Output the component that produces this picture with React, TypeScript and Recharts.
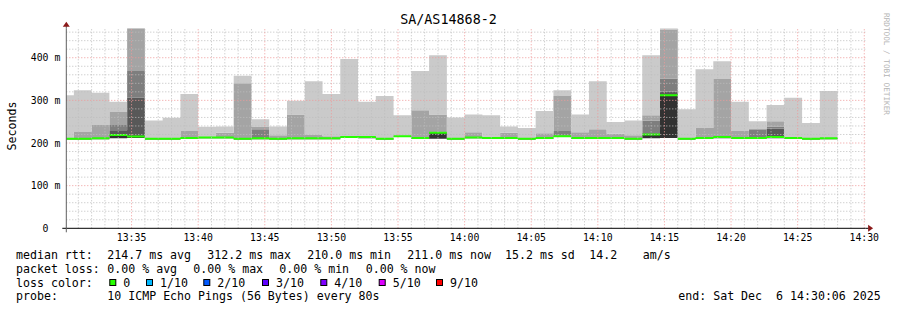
import React from 'react';
import { ComposedChart, Area, XAxis, YAxis, ReferenceLine, ReferenceDot } from 'recharts';

// ---- data ----
const slotStart = [
  '13:29:20', '13:30:40', '13:32:00', '13:33:20', '13:34:40', '13:36:00', '13:37:20', '13:38:40',
  '13:40:00', '13:41:20', '13:42:40', '13:44:00', '13:45:20', '13:46:40', '13:48:00', '13:49:20',
  '13:50:40', '13:52:00', '13:53:20', '13:54:40', '13:56:00', '13:57:20', '13:58:40', '14:00:00',
  '14:01:20', '14:02:40', '14:04:00', '14:05:20', '14:06:40', '14:08:00', '14:09:20', '14:10:40',
  '14:12:00', '14:13:20', '14:14:40', '14:16:00', '14:17:20', '14:18:40', '14:20:00', '14:21:20',
  '14:22:40', '14:24:00', '14:25:20', '14:26:40',
];
const slotEnd = '14:28:00';
const viewStart = '13:30:06';
const viewEnd = '14:30:06';
const timeTicks = ['13:35', '13:40', '13:45', '13:50', '13:55', '14:00', '14:05', '14:10', '14:15', '14:20', '14:25', '14:30'];
const yTicks = [0, 100, 200, 300, 400];
const yMax = 469;

const median = [210, 210, 211, 219, 215, 210, 210, 212, 213, 213, 210, 211, 210, 211, 211, 211, 214, 214, 210, 216, 212, 224, 210, 213, 212, 212, 210, 212, 216, 212, 212, 212, 210, 220, 312, 210, 212, 214, 212, 212, 214, 212, 210, 211];
const pingMin = [208, 208, 209, 211, 212, 208, 208, 210, 211, 211, 208, 209, 208, 209, 209, 209, 212, 211, 208, 214, 210, 210, 208, 211, 210, 210, 208, 210, 214, 210, 210, 210, 208, 211, 212, 208, 210, 211, 210, 210, 211, 210, 208, 209];
const ping6 = [210, 210, 211, 219, 215, 210, 210, 212, 213, 213, 210, 211, 210, 211, 211, 211, 214, 214, 210, 216, 212, 224, 210, 213, 212, 212, 210, 212, 216, 212, 212, 212, 210, 220, 312, 210, 212, 214, 212, 212, 214, 212, 210, 211];
const ping7 = [211, 211, 212, 230, 306, 211, 211, 213, 214, 214, 211, 212, 211, 212, 212, 212, 215, 215, 211, 217, 213, 225, 211, 214, 213, 213, 211, 213, 217, 213, 213, 213, 211, 221, 320, 211, 213, 215, 213, 213, 234, 213, 211, 212];
const ping8 = [211, 211, 212, 242, 369, 211, 211, 213, 214, 214, 211, 232, 211, 212, 212, 212, 215, 215, 211, 217, 213, 225, 211, 214, 213, 213, 211, 213, 228, 213, 213, 213, 211, 253, 351, 211, 213, 215, 213, 232, 239, 213, 211, 212];
const ping9 = [211, 226, 242, 273, 469, 211, 211, 228, 214, 224, 340, 239, 218, 267, 220, 216, 215, 216, 211, 217, 277, 267, 211, 225, 213, 224, 211, 223, 310, 225, 232, 222, 218, 265, 465, 211, 235, 350, 228, 232, 251, 213, 211, 212];
const pingMax = [312, 324, 318, 297, 469, 253, 259, 315, 238, 239, 358, 256, 239, 299, 345, 315, 397, 297, 310, 265, 369, 406, 260, 267, 265, 239, 235, 275, 324, 267, 345, 249, 253, 406, 469, 279, 373, 392, 297, 251, 289, 306, 247, 322];

const lossLevels = ['0', '1/10', '2/10', '3/10', '4/10', '5/10', '9/10'];
const lossColors = ['#26ff00', '#00b8ff', '#0059ff', '#5e00ff', '#7e00ff', '#dd00ff', '#ff0000'];

const rttItems = ['214.7 ms avg', '312.2 ms max', '210.0 ms min', '211.0 ms now', '15.2 ms sd', '14.2', 'am/s'];
const lossItems = ['0.00 % avg', '0.00 % max', '0.00 % min', '0.00 % now'];
const probeText = '10 ICMP Echo Pings (56 Bytes) every 80s';
const endText = 'end: Sat Dec  6 14:30:06 2025';
const title = 'SA/AS14868-2';

// ---- helpers ----
const toSec = (s: string) => {
  const p = s.split(':').map(Number);
  return p[0] * 3600 + p[1] * 60 + (p[2] || 0);
};
const pad = (n: number) => (n < 10 ? '0' + n : '' + n);
const fmtTime = (t: number) => `${pad(Math.floor(t / 3600))}:${pad(Math.floor((t % 3600) / 60))}`;

const BAND = 4.7; // median band thickness (ms)
const smokeColors = ['#323232', '#585858', '#7e7e7e', '#a4a4a4', '#cacaca'];

const rows: any[] = slotStart.map((s, i) => ({
  t: toSec(s),
  base: pingMin[i],
  l5: ping6[i] - pingMin[i],
  l4: ping7[i] - ping6[i],
  l3: ping8[i] - ping7[i],
  l2: ping9[i] - ping8[i],
  l1: pingMax[i] - ping9[i],
  mb: median[i] - BAND / 2,
  mband: BAND,
}));
rows.push({ ...rows[rows.length - 1], t: toSec(slotEnd) });

const x0 = toSec(viewStart);
const x1 = toSec(viewEnd);
const majorX = timeTicks.map(toSec);
const minorX: number[] = [];
for (let t = Math.ceil(x0 / 60) * 60; t <= x1; t += 60) if (!majorX.includes(t)) minorX.push(t);
const majorY = yTicks.filter((v) => v > 0);
const minorY: number[] = [];
for (let v = 20; v < yMax; v += 20) if (v % 100 !== 0) minorY.push(v);

const FONT = '"DejaVu Sans Mono", monospace';
const MINOR = '#bdbdbd';
const MAJOR = '#ee9999';

const YTick = (props: any) => {
  const { x, y, payload } = props;
  const v = payload.value;
  return (
    <text x={v === 0 ? x - 18 : x - 6} y={y} dy="0.36em" textAnchor="end" fontFamily={FONT} fontSize={9.8} fill="#000">
      {v === 0 ? '0' : `${v} m`}
    </text>
  );
};

const smokeKeys = ['l5', 'l4', 'l3', 'l2', 'l1'];
const preStyle: any = { whiteSpace: 'pre' };

export default function App() {
  return (
    <div style={{ position: 'absolute', left: 0, top: 0, width: 897, height: 310, background: '#fff', overflow: 'hidden' }}>
      <div style={{ position: 'absolute', left: 0, top: 0 }}>
        <ComposedChart width={897} height={310} data={rows} margin={{ top: 28.3, right: 31.4, bottom: 51.7, left: 0 }}>
          <XAxis
            type="number"
            dataKey="t"
            domain={[x0, x1]}
            allowDataOverflow
            ticks={majorX}
            tickFormatter={fmtTime}
            tickLine={false}
            tickSize={0}
            tickMargin={6}
            height={30}
            axisLine={{ stroke: '#000', strokeWidth: 1 }}
            tick={{ fontFamily: FONT, fontSize: 9.8, fill: '#000' }}
          />
          <YAxis
            type="number"
            domain={[0, yMax]}
            allowDataOverflow
            ticks={yTicks}
            width={66.3}
            tickLine={false}
            tickSize={0}
            tickMargin={0}
            axisLine={{ stroke: '#606060', strokeWidth: 1 }}
            tick={<YTick />}
          />
          <Area type="stepAfter" dataKey="base" stackId="smoke" fill="none" stroke="none" isAnimationActive={false} dot={false} activeDot={false} />
          {smokeKeys.map((k, i) => (
            <Area
              key={k}
              type="stepAfter"
              dataKey={k}
              stackId="smoke"
              fill={smokeColors[i]}
              fillOpacity={1}
              stroke="none"
              isAnimationActive={false}
              dot={false}
              activeDot={false}
            />
          ))}
          <Area type="stepAfter" dataKey="mb" stackId="med" fill="none" stroke="none" isAnimationActive={false} dot={false} activeDot={false} />
          <Area type="stepAfter" dataKey="mband" stackId="med" fill="#26ff00" fillOpacity={1} stroke="none" isAnimationActive={false} dot={false} activeDot={false} />
          {minorY.map((v) => (
            <ReferenceLine key={'my' + v} y={v} stroke={MINOR} strokeDasharray="1 2" />
          ))}
          {minorX.map((t) => (
            <ReferenceLine key={'mx' + t} x={t} stroke={MINOR} strokeDasharray="1 2" />
          ))}
          {majorY.map((v) => (
            <ReferenceLine key={'My' + v} y={v} stroke={MAJOR} strokeDasharray="1 2" />
          ))}
          {majorX.map((t) => (
            <ReferenceLine key={'Mx' + t} x={t} stroke={MAJOR} strokeDasharray="1 2" />
          ))}
          <ReferenceDot
            x={x1}
            y={0}
            r={0}
            ifOverflow="visible"
            shape={(p: any) => (
              <g>
                <line x1={p.cx} y1={p.cy} x2={p.cx + 3} y2={p.cy} stroke="#000" />
                <path d={`M${p.cx + 2.5},${p.cy - 3.5} L${p.cx + 7.5},${p.cy} L${p.cx + 2.5},${p.cy + 3.5} Z`} fill="#8b1a1a" />
              </g>
            )}
          />
          <ReferenceDot
            x={x0}
            y={yMax}
            r={0}
            ifOverflow="visible"
            shape={(p: any) => (
              <g>
                <line x1={p.cx} y1={p.cy} x2={p.cx} y2={p.cy - 3} stroke="#606060" />
                <path d={`M${p.cx - 3.5},${p.cy - 1.6} L${p.cx},${p.cy - 6.6} L${p.cx + 3.5},${p.cy - 1.6} Z`} fill="#8b1a1a" />
              </g>
            )}
          />
          <ReferenceDot
            x={x0}
            y={0}
            r={0}
            ifOverflow="visible"
            shape={(p: any) => (
              <g>
                <line x1={p.cx - 4} y1={p.cy} x2={p.cx} y2={p.cy} stroke="#000" />
                <line x1={p.cx} y1={p.cy} x2={p.cx} y2={p.cy + 4} stroke="#606060" />
              </g>
            )}
          />
        </ComposedChart>
      </div>
      <svg width={897} height={310} style={{ position: 'absolute', left: 0, top: 0, pointerEvents: 'none' }}>
        <text x={448.5} y={23.9} textAnchor="middle" fontFamily={FONT} fontSize={13.4} fill="#000">{title}</text>
        <text x={15.5} y={126} textAnchor="middle" fontFamily={FONT} fontSize={11.6} fill="#000" transform="rotate(-90 15.5 126)">Seconds</text>
        <text x={884} y={64} textAnchor="middle" fontFamily={FONT} fontSize={7.7} fill="#b4b4b4" transform="rotate(90 884 64)">RRDTOOL / TOBI OETIKER</text>
        <g fontFamily={FONT} fontSize={11.6} fill="#000">
          <text x={16} y={259}>median rtt:</text>
          {rttItems.map((s, i) => (
            <text key={'r' + i} x={[107.3, 207.3, 307.3, 407.3, 505, 589.3, 642.7][i]} y={259}>{s}</text>
          ))}
          <text x={16} y={272.5}>packet loss:</text>
          {lossItems.map((s, i) => (
            <text key={'l' + i} x={[107.3, 193.3, 279.3, 365.7][i]} y={272.5}>{s}</text>
          ))}
          <text x={16} y={286.5}>loss color:</text>
          {lossLevels.map((s, i) => {
            const lx = [123.3, 160, 217.3, 276, 334.3, 392.7, 450][i];
            return (
              <g key={'c' + i}>
                <rect x={lx - 13.5} y={279.5} width={6} height={6} fill={lossColors[i]} stroke="#000" strokeWidth={1} />
                <text x={lx} y={286.5}>{s}</text>
              </g>
            );
          })}
          <text x={16} y={300}>probe:</text>
          <text x={107.3} y={300}>{probeText}</text>
          <text x={678.3} y={300} xmlSpace="preserve" style={preStyle}>{endText}</text>
        </g>
      </svg>
    </div>
  );
}
